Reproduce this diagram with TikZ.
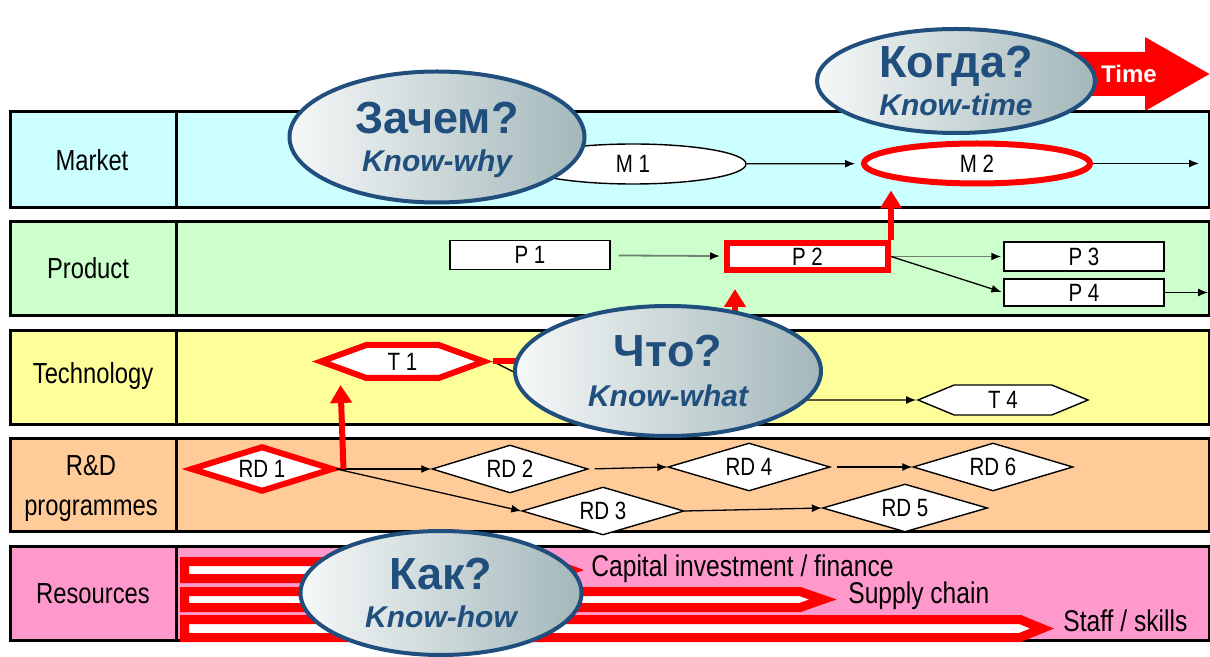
\documentclass[tikz,border=0pt]{standalone}
\usepackage{fontspec}
\setmainfont{Liberation Sans}
\newfontfamily\narrowfont[FakeStretch=0.82]{Liberation Sans}
\usetikzlibrary{arrows.meta}
\usetikzlibrary{shapes.geometric,shapes.symbols}
\definecolor{mktcol}{RGB}{204,255,255}
\definecolor{prdcol}{RGB}{204,255,204}
\definecolor{tchcol}{RGB}{255,255,153}
\definecolor{rdcol}{RGB}{255,204,153}
\definecolor{rescol}{RGB}{255,153,204}
\definecolor{hotred}{RGB}{255,0,0}
\definecolor{bubblue}{RGB}{32,78,125}
\definecolor{shadeleft}{RGB}{246,248,248}
\definecolor{shaderight}{RGB}{163,183,186}
\definecolor{linkgray}{RGB}{110,128,110}

\newcommand{\bigq}{\fontsize{22.5}{24}\selectfont\bfseries}
\newcommand{\smallq}{\fontsize{15}{20}\selectfont\bfseries\itshape}

\tikzset{
  rowbox/.style={draw=black,line width=1.5pt},
  rowlabel/.style={font=\narrowfont\fontsize{14.5}{20}\selectfont,align=center},
  thinbox/.style={draw=black,line width=0.7pt,fill=white,inner sep=0pt,font=\narrowfont\fontsize{12.5}{14}\selectfont},
  mnode/.style={thinbox,ellipse,minimum width=113pt,minimum height=20pt},
  pnode/.style={thinbox,rectangle,minimum width=80pt,minimum height=14.5pt},
  tnode/.style={thinbox,signal,signal to=east and west,signal pointer angle=45,minimum width=85pt,minimum height=15pt},
  rdnode/.style={thinbox,diamond,aspect=2.3,minimum width=80pt,minimum height=24pt},
  hot/.style={draw=hotred,line width=3pt},
  link/.style={-{Latex[length=5pt,width=4pt]},line width=0.65pt},
  graylink/.style={-{Latex[length=5pt,width=4pt,color=black]},draw=linkgray,line width=0.9pt},
  redlink/.style={-{Triangle[length=9pt,width=10.5pt]},draw=hotred,line width=3pt},
  resarrow/.style={draw=hotred,fill=white,line width=4.5pt},
  restext/.style={anchor=west,font=\narrowfont\fontsize{15}{17}\selectfont,inner sep=0pt},
  bubble/.style={ellipse,draw=bubblue,line width=2pt,left color=shadeleft,right color=shaderight,text=bubblue,align=center,inner sep=0pt,text depth=0pt}
}

\begin{document}
\begin{tikzpicture}[x=0.5pt,y=-0.5pt]
\useasboundingbox (0,0) rectangle (1210,657);

% time arrow
\fill [hotred] (1070,52) -- (1145,52) -- (1145,37) -- (1209.5,74) -- (1145,111) -- (1145,96) -- (1070,96) -- cycle;
\node at (1129,74) [font=\fontsize{12}{14}\selectfont\bfseries,text=white] {Time};

% market layer
\filldraw [rowbox,fill=mktcol] (10,112) rectangle (1209,208);
\draw [rowbox] (176,112) -- (176,208);
\node (market) at (92,160) [rowlabel] {Market};
\node (m1) at (633,164) [mnode] {M 1};
\node (m2) at (977,163.5) [mnode,hot] {M 2};
\coordinate (mout) at (1199,163.5);
\draw [link,shorten >=3pt] (m1) -- (m2);
\draw [link] (m2) -- (mout);

% product layer
\filldraw [rowbox,fill=prdcol] (10,222) rectangle (1209,316);
\draw [rowbox] (176,222) -- (176,316);
\node (product) at (88,268) [rowlabel] {Product};
\node (p1) at (530,255) [pnode] {P 1};
\node (p2) at (807.5,256.5) [pnode,hot,minimum width=80.5pt,minimum height=13.5pt] {P 2};
\node (p3) at (1084,256.5) [pnode] {P 3};
\node (p4) at (1084,292.5) [pnode,minimum height=13.5pt] {P 4};
\coordinate (pout) at (1208,292.5);
\draw [graylink,shorten <=4pt,shorten >=2pt] (p1) -- (p2);
\draw [graylink,shorten >=1pt] (p2.east) -- (p3.west);
\draw [link,shorten >=1pt] (p2.east) -- (p4.west);
\draw [link] (p4) -- (pout);

% technology layer
\filldraw [rowbox,fill=tchcol] (10,331) rectangle (1209,425);
\draw [rowbox] (176,331) -- (176,425);
\node (technology) at (93,376) [rowlabel] {Technology};
\node (t1) at (402.5,361.5) [tnode,hot,signal pointer angle=40,minimum width=81.5pt,minimum height=16.5pt] {T 1};
\node (t4) at (1003,400) [tnode] {T 4};
\coordinate (tbend) at (570,400);
\draw [link] (t1.east) -- (tbend) -- (t4.west);

% r&d layer
\filldraw [rowbox,fill=rdcol] (10,439) rectangle (1209,531);
\draw [rowbox] (176,439) -- (176,531);
\node (rnd) at (91,488) [rowlabel] {R\&D\\programmes};
\node (rd1) at (262,469) [rdnode,hot,minimum width=71.5pt,minimum height=23pt] {RD 1};
\node (rd2) at (510,469) [rdnode,minimum width=78pt] {RD 2};
\node (rd3) at (603,511) [rdnode,minimum width=81pt] {RD 3};
\node (rd4) at (749,467) [rdnode,minimum width=81pt] {RD 4};
\node (rd5) at (905,508) [rdnode,minimum width=82.5pt] {RD 5};
\node (rd6) at (993,467) [rdnode] {RD 6};
\draw [link] (rd1.east) -- (rd2.west);
\draw [link] (rd1.east) -- (rd3.west);
\draw [link,shorten <=3pt] (rd2.east) -- (rd4.west);
\draw [link,shorten <=3pt] (rd4.east) -- (rd6.west);
\draw [link] (rd3.east) -- (rd5.west);

% red links
\coordinate (ptip) at (735,289);
\coordinate (ttip) at (340.5,385);
\draw [redlink] (t1.east) -| (ptip);
\draw [redlink] ([xshift=3.5pt]rd1.east) -- (ttip);
\draw [redlink,shorten >=2pt] (p2.north east) -- (p2.north east |- m2.south);

% resources layer
\filldraw [rowbox,fill=rescol] (10,546) rectangle (1209,640);
\draw [rowbox] (176,546) -- (176,640);
\node (resources) at (93,594) [rowlabel] {Resources};
\draw [resarrow] (184.5,561.5) -- (548,561.5) -- (571,570) -- (548,578.5) -- (184.5,578.5) -- cycle;
\draw [resarrow] (184.5,591.5) -- (800,591.5) -- (823,599.5) -- (800,607.5) -- (184.5,607.5) -- cycle;
\draw [resarrow] (184.5,619.5) -- (1020,619.5) -- (1042,628.5) -- (1020,637.5) -- (184.5,637.5) -- cycle;
\node (capital) at (591,569) [restext] {Capital investment / finance};
\node (supply) at (848,596) [restext] {Supply chain};
\node (staff) at (1063,621) [restext] {Staff / skills};

% question bubbles
\node (why) at (437,137) [bubble,minimum width=147.5pt,minimum height=65.5pt] {\bigq Зачем?\\[7pt]\smallq Know-why};
\node (when) at (956,81) [bubble,minimum width=139pt,minimum height=52pt] {\bigq Когда?\\[2.5pt]\smallq Know-time};
\node (what) at (668,371) [bubble,minimum width=153pt,minimum height=65pt] {\bigq Что?\\[8pt]\smallq Know-what};
\node (how) at (441,593) [bubble,minimum width=140.5pt,minimum height=62pt] {\bigq Как?\\[7pt]\smallq Know-how};

\end{tikzpicture}
\end{document}
